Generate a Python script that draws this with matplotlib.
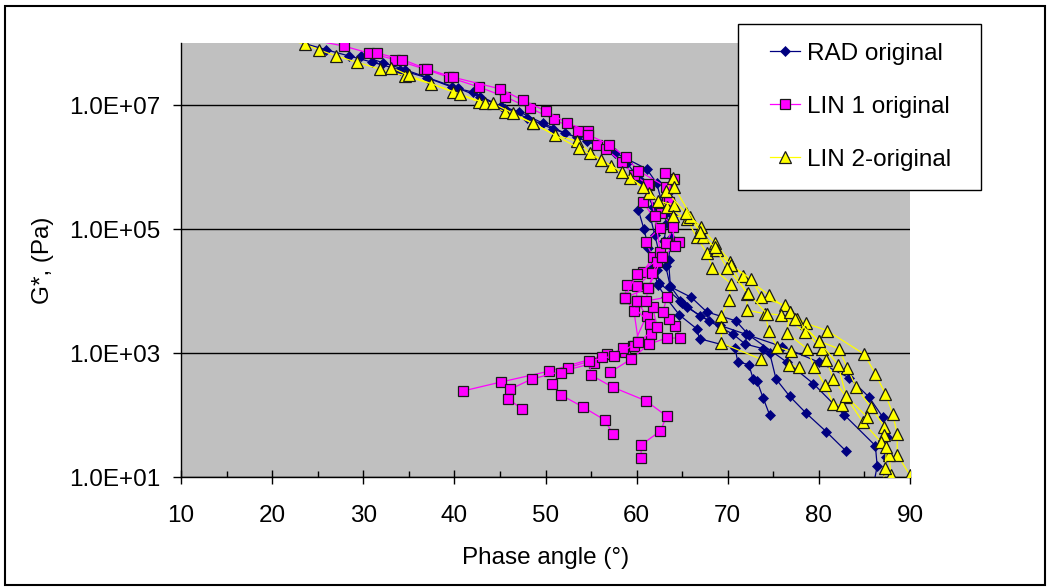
import matplotlib
matplotlib.use("Agg")
import matplotlib.pyplot as plt
from matplotlib.patches import Rectangle
from matplotlib.lines import Line2D
from matplotlib.legend_handler import HandlerLine2D
from matplotlib.ticker import NullLocator

# ---------------- data (phase angle in degrees, G* in Pa) ----------------
RAD_PHASE = [
    [19.5, 25.9, 28.4, 31.0, 34.0, 37.0, 39.7, 42.0, 45.1, 47.1, 49.7, 52.1, 54.6, 56.5, 58.9, 60.4, 61.8],
    [29.8, 32.2, 34.6, 40.4, 42.8, 45.6, 48.0, 50.8, 53.5, 57.6, 61.1, 62.2, 63.1],
    [60.2, 60.8, 61.3, 61.8, 62.3, 63.2, 64.7, 66.6, 66.9, 70.8, 71.1, 72.3, 72.8, 73.2, 73.9, 74.6],
    [61.5, 62.0, 62.5, 62.2, 62.5, 64.8, 65.5, 67.9, 70.6, 71.9, 73.9, 74.6, 75.3, 76.8, 78.6, 80.8, 83.0],
    [62.8, 63.3, 63.0, 63.2, 63.7, 66.0, 67.7, 70.9, 72.3, 76.5, 79.4, 82.8, 86.2, 86.4, 85.9],
    [63.6, 64.0, 63.8, 63.5, 63.7, 65.0, 66.9, 69.1, 72.0, 76.0, 80.0, 83.3, 85.5, 87.0, 87.5, 87.4, 86.9],
]
RAD_G = [
    [1.46e8, 7.8e7, 6.2e7, 4.9e7, 3.7e7, 2.75e7, 1.95e7, 1.62e7, 9.5e6, 7.8e6, 5.1e6, 3.55e6, 2.6e6, 2.0e6, 1.17e6, 6.2e5, 2.3e5],
    [6.2e7, 4.8e7, 3.7e7, 1.86e7, 1.35e7, 8.7e6, 6.2e6, 4.1e6, 3.0e6, 1.7e6, 9.3e5, 5.5e5, 1.75e5],
    [2.0e5, 1.0e5, 5.0e4, 2.5e4, 1.26e4, 7.9e3, 4.1e3, 2.45e3, 1.7e3, 1.2e3, 7.2e2, 6.5e2, 3.8e2, 3.55e2, 1.86e2, 1.0e2],
    [1.58e5, 7.9e4, 4.0e4, 2.2e4, 1.35e4, 6.9e3, 5.5e3, 3.3e3, 2.0e3, 1.4e3, 1.17e3, 1.0e3, 3.8e2, 2.0e2, 1.07e2, 54, 26],
    [2.5e5, 1.26e5, 6.3e4, 2.5e4, 1.17e4, 7.9e3, 4.6e3, 3.3e3, 1.95e3, 7.1e2, 3.2e2, 1.0e2, 32, 15, 6.3],
    [4.0e5, 1.6e5, 7.1e4, 3.2e4, 1.2e4, 6.5e3, 4.0e3, 2.8e3, 2.0e3, 1.26e3, 7.1e2, 4.0e2, 1.95e2, 93, 45, 21, 6.3],
]

LIN1_PHASE = [
    [21.5, 27.9, 30.6, 33.5, 36.7, 39.4, 42.7, 45.6, 48.3, 50.9, 53.6, 55.7, 56.6, 58.4, 59.7, 61.4, 60.7,
     62.6, 61.0, 61.8, 60.7, 58.9, 58.7, 59.7, 60.2, 58.7, 56.8, 50.4, 45.1, 41.0],
    [31.5, 34.3, 37.0, 39.9, 45.0, 47.5, 50.1, 52.4, 54.7, 54.7, 57.0, 58.8, 60.2, 63.2, 63.3, 62.7, 64.0,
     63.3, 62.2, 61.7, 60.0, 60.0, 61.1, 59.6, 58.5, 55.3, 48.5, 46.1, 45.9, 47.4],
    [61.3, 62.0, 62.6, 61.3, 58.7, 61.5, 61.6, 59.7, 56.2, 52.5, 51.7, 50.7, 51.7, 54.1, 56.5, 57.4],
    [63.2, 62.8, 60.0, 58.7, 60.0, 61.8, 62.2, 60.2, 57.5, 54.8, 55.0, 57.4, 61.0, 63.3, 62.6, 60.5, 60.5],
    [57.1, 59.4, 61.4, 63.3, 64.8, 64.2, 63.6, 62.9, 63.3, 61.0, 61.3, 62.8, 64.7, 64.2, 63.6, 64.1, 63.1],
]
LIN1_G = [
    [1.37e8, 8.9e7, 6.9e7, 5.4e7, 3.8e7, 2.8e7, 1.95e7, 1.35e7, 8.9e6, 5.9e6, 3.8e6, 2.3e6, 1.95e6, 1.2e6, 7.4e5, 5.1e5, 2.75e5,
     1.05e5, 6.2e4, 3.55e4, 2.0e4, 1.26e4, 7.8e3, 4.8e3, 1.5e3, 1.05e3, 9.5e2, 5.1e2, 3.4e2, 2.45e2],
    [6.9e7, 5.4e7, 3.8e7, 2.8e7, 1.82e7, 1.2e7, 7.9e6, 5.1e6, 3.8e6, 3.3e6, 2.3e6, 1.45e6, 8.7e5, 4.8e5, 2.8e5, 1.82e5, 1.07e5,
     5.9e4, 2.95e4, 1.95e4, 1.2e4, 6.9e3, 4.0e3, 1.3e3, 1.2e3, 6.9e2, 3.8e2, 2.6e2, 1.82e2, 1.26e2],
    [5.4e5, 1.6e5, 4.3e4, 1.12e4, 7.8e3, 2.95e3, 2.0e3, 1.3e3, 8.5e2, 5.8e2, 4.8e2, 3.2e2, 2.1e2, 1.35e2, 83, 49],
    [5.9e4, 3.55e4, 1.86e4, 7.8e3, 6.9e3, 5.5e3, 2.6e3, 1.5e3, 9.0e2, 7.4e2, 4.4e2, 2.8e2, 1.7e2, 96, 55, 33, 20],
    [4.9e2, 8.0e2, 1.4e3, 1.74e3, 1.74e3, 2.75e3, 3.55e3, 4.6e3, 7.9e3, 6.9e3, 1.12e4, 3.55e4, 6.2e4, 5.4e4, 2.75e5, 6.5e5, 7.9e5],
]

LIN2_PHASE = [
    [20.0, 23.6, 25.1, 27.0, 29.3, 31.8, 34.6, 37.4, 39.9, 42.7, 45.6, 48.6, 51.0, 53.5, 54.9, 57.2, 59.3, 61.4,
     63.3, 65.5, 66.6, 67.7, 68.3, 70.4, 70.1, 69.3, 69.3, 69.3, 73.7],
    [33.1, 35.0, 40.6, 43.4, 44.2, 46.4, 48.6, 53.7, 56.1, 58.4, 60.7, 62.4, 64.1, 64.0, 65.9, 67.3, 68.7, 70.4,
     72.1, 72.1, 74.1, 74.5, 75.4, 76.9, 76.7, 77.8],
    [64.0, 63.2, 65.4, 67.1, 68.6, 70.3, 71.7, 74.5, 76.8, 78.6, 80.9, 85.0, 86.2, 87.3, 88.1, 88.6, 88.6, 90.0],
    [64.1, 67.0, 68.8, 70.4, 72.6, 73.7, 76.3, 77.6, 80.0, 82.2, 83.1, 84.1, 85.7, 87.2, 87.2, 87.7, 87.9],
    [68.6, 69.9, 72.2, 74.3, 75.8, 78.5, 80.3, 80.8, 81.6, 83.0, 84.8, 86.8, 87.4, 87.3, 87.0],
    [76.8, 76.5, 78.7, 79.5, 80.7, 81.6, 82.5],
    [77.4, 80.0, 82.1, 83.0, 85.3],
]
LIN2_G = [
    [1.38e8, 9.5e7, 7.8e7, 6.2e7, 4.9e7, 3.8e7, 2.95e7, 2.2e7, 1.62e7, 1.12e7, 7.8e6, 5.1e6, 3.3e6, 2.6e6, 1.7e6, 1.05e6, 6.6e5, 3.8e5,
     2.3e5, 1.45e5, 7.4e4, 4.1e4, 2.35e4, 1.3e4, 7.2e3, 4.0e3, 2.6e3, 1.45e3, 7.9e2],
    [4.0e7, 3.0e7, 1.5e7, 1.07e7, 1.07e7, 7.4e6, 5.1e6, 2.0e6, 1.3e6, 8.3e5, 4.8e5, 2.8e5, 2.45e5, 1.62e5, 1.55e5, 7.4e4, 4.6e4, 2.6e4,
     8.9e3, 4.9e3, 4.3e3, 2.3e3, 1.26e3, 1.07e3, 6.5e2, 5.9e2],
    [6.6e5, 4.1e5, 1.82e5, 1.07e5, 5.9e4, 2.95e4, 1.74e4, 8.7e3, 4.6e3, 3.0e3, 2.3e3, 9.5e2, 4.6e2, 2.2e2, 1.05e2, 49, 23, 10.7],
    [4.8e5, 8.9e4, 4.6e4, 2.6e4, 1.55e4, 7.9e3, 5.9e3, 3.55e3, 1.55e3, 1.17e3, 5.8e2, 2.8e2, 1.35e2, 65, 48, 23, 10.7],
    [5.1e4, 2.35e4, 9.3e3, 4.3e3, 4.1e3, 2.2e3, 1.17e3, 7.8e2, 3.8e2, 1.95e2, 78, 37, 30, 14, 7.9],
    [4.6e3, 2.1e3, 1.17e3, 5.9e2, 3.0e2, 1.5e2, 1.45e2],
    [3.55e3, 1.55e3, 6.5e2, 2.0e2, 93],
]

SERIES_LABELS = ["RAD original", "LIN 1 original", "LIN 2-original"]
X_TICKS = [10, 20, 30, 40, 50, 60, 70, 80, 90]
X_MINOR_TICKS = [15, 25, 35, 45, 55, 65, 75, 85]
Y_TICKS = [1e1, 1e3, 1e5, 1e7]
Y_TICK_LABELS = ["1.0E+01", "1.0E+03", "1.0E+05", "1.0E+07"]
X_LABEL = "Phase angle (\u00b0)"
Y_LABEL = "G*, (Pa)"

# ---------------- figure ----------------
plt.rcParams['font.family'] = ['Liberation Sans', 'DejaVu Sans']
FS = 17.5

W, H = 1050, 588
fig = plt.figure(figsize=(W / 100, H / 100), dpi=100)
fig.patch.set_facecolor('white')
ax = fig.add_axes([181 / W, (H - 477) / H, 729 / W, 434 / H])
ax.set_facecolor('#C0C0C0')
ax.set_axisbelow(True)

styles = [
    dict(color='#000080', lw=0.9, marker='D', ms=4.9, mfc='#000080', mec='#000080', mew=0.5),
    dict(color='#FF00FF', lw=0.9, marker='s', ms=6.5, mfc='#FF00FF', mec='#1a1a1a', mew=0.9),
    dict(color='#FFFF00', lw=0.9, marker='^', ms=8.0, mfc='#FFFF00', mec='#1a1a1a', mew=0.9),
]
all_series = [(RAD_PHASE, RAD_G), (LIN1_PHASE, LIN1_G), (LIN2_PHASE, LIN2_G)]
for k, ((phs, gs), st) in enumerate(zip(all_series, styles)):
    for p, g in zip(phs, gs):
        ax.plot(p, g, zorder=3 + k, **st)

ax.set_yscale('log')
ax.set_xlim(10, 90)
ax.set_ylim(1e1, 1e8)
ax.set_yticks(Y_TICKS)
ax.set_yticklabels(Y_TICK_LABELS)
ax.yaxis.set_minor_locator(NullLocator())
ax.set_xticks(X_TICKS)
ax.set_xticklabels([str(v) for v in X_TICKS])
ax.set_xticks(X_MINOR_TICKS, minor=True)

ax.tick_params(axis='x', which='major', direction='inout', length=10, width=1, labelsize=FS, pad=15)
ax.tick_params(axis='x', which='minor', direction='in', length=4.3, width=1)
ax.tick_params(axis='y', which='major', direction='out', length=5.8, width=1, labelsize=FS, pad=9)

ax.grid(axis='y', which='major', color='black', lw=1)
ax.grid(axis='x', visible=False)
for s in ['top', 'right']:
    ax.spines[s].set_visible(False)
for s in ['left', 'bottom']:
    ax.spines[s].set_color('black')
    ax.spines[s].set_linewidth(1)

ax.set_xlabel(X_LABEL, fontsize=FS)
ax.xaxis.set_label_coords(0.5, -(547 - 477) / 434)
ax.set_ylabel(Y_LABEL, fontsize=FS)
ax.yaxis.set_label_coords((54 - 181) / 729, 0.5)


class ShiftedLine(HandlerLine2D):
    def __init__(self, shift, **kw):
        super().__init__(**kw)
        self.shift = shift

    def create_artists(self, legend, orig_handle, xdescent, ydescent, width, height, fontsize, trans):
        return super().create_artists(legend, orig_handle, xdescent - self.shift, ydescent,
                                      width - self.shift, height, fontsize, trans)


handles = [Line2D([], [], **st) for st in styles]
leg = ax.legend(handles, SERIES_LABELS, loc='upper left', mode='expand',
                bbox_to_anchor=(738 / W, 1 - 184 / H, 243 / W, 160 / H), bbox_transform=fig.transFigure,
                borderaxespad=0, fontsize=FS, frameon=True, fancybox=False, shadow=False,
                framealpha=1, edgecolor='black', facecolor='white',
                borderpad=0.78, labelspacing=1.27, handlelength=1.77, handletextpad=0.29,
                handler_map={h: ShiftedLine(9.4) for h in handles})
leg.get_frame().set_linewidth(1)
leg.set_zorder(10)

fig.add_artist(Rectangle((5 / W, 3 / H), 1040 / W, 579 / H, transform=fig.transFigure,
                         fill=False, edgecolor='black', lw=1.5))

fig.savefig('out.png', dpi=100)
